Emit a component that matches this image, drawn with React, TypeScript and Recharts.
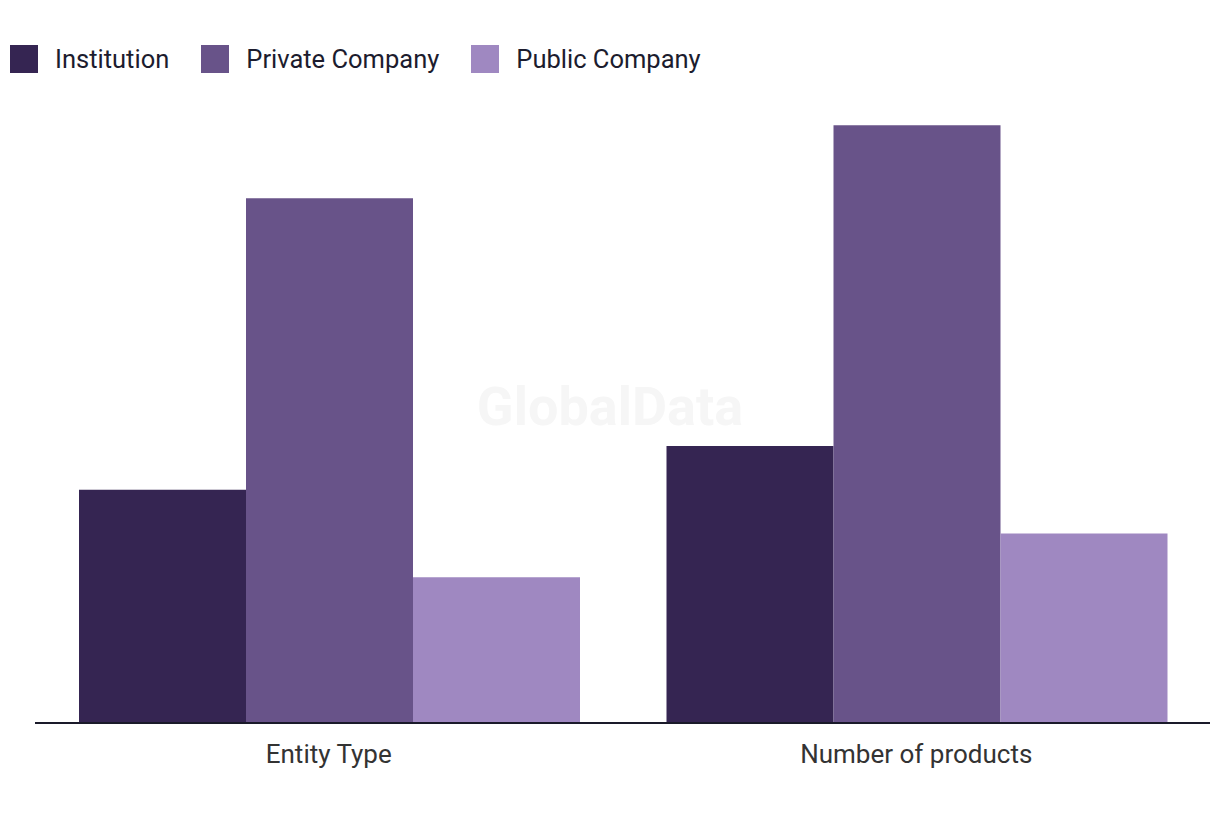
import { BarChart, Bar, XAxis, YAxis, Legend } from 'recharts';

const categories = ['Entity Type', 'Number of products'];
const institution = [16, 19];
const privateCompany = [36, 41];
const publicCompany = [10, 13];

const SERIES = [
  { key: 'institution', name: 'Institution', color: '#352552' },
  { key: 'privateCompany', name: 'Private Company', color: '#685389' },
  { key: 'publicCompany', name: 'Public Company', color: '#9f88c1' },
];

const data = categories.map((name, i) => ({
  name,
  institution: institution[i],
  privateCompany: privateCompany[i],
  publicCompany: publicCompany[i],
}));

const FONT = 'Roboto, "Liberation Sans", sans-serif';

function LegendContent() {
  return (
    <div style={{ display: 'flex', alignItems: 'center', fontFamily: FONT }}>
      {SERIES.map(s => (
        <div key={s.key} style={{ display: 'flex', alignItems: 'center', marginRight: 32 }}>
          <span
            style={{ width: 28, height: 28, background: s.color, display: 'inline-block', marginRight: 17 }}
          />
          <span style={{ fontSize: 25.5, color: '#1c1c2e' }}>{s.name}</span>
        </div>
      ))}
    </div>
  );
}

export default function App() {
  return (
    <div style={{ position: 'absolute', left: 0, top: 0, width: 1220, height: 820, background: '#fff' }}>
      <BarChart
        width={1220}
        height={820}
        data={data}
        margin={{ top: 67, right: 10, bottom: 67, left: 35 }}
        barCategoryGap={44}
        barGap={0}
      >
        <text
          x={610}
          y={411}
          textAnchor="middle"
          dominantBaseline="middle"
          fontFamily={FONT}
          fontWeight={700}
          fontSize={54}
          fill="#f6f6f6"
        >
          GlobalData
        </text>
        <XAxis
          dataKey="name"
          axisLine={{ stroke: '#1a1a2a', strokeWidth: 2 }}
          tickLine={false}
          tickSize={6}
          tickMargin={16}
          height={30}
          tick={{ fontSize: 26, fill: '#333', fontFamily: FONT }}
        />
        <YAxis hide domain={[0, 45]} />
        <Legend
          verticalAlign="middle"
          align="center"
          content={<LegendContent />}
          wrapperStyle={{ top: 44, left: 10, width: 'auto' }}
        />
        {SERIES.map(s => (
          <Bar key={s.key} dataKey={s.key} name={s.name} fill={s.color} isAnimationActive={false} />
        ))}
      </BarChart>
    </div>
  );
}
